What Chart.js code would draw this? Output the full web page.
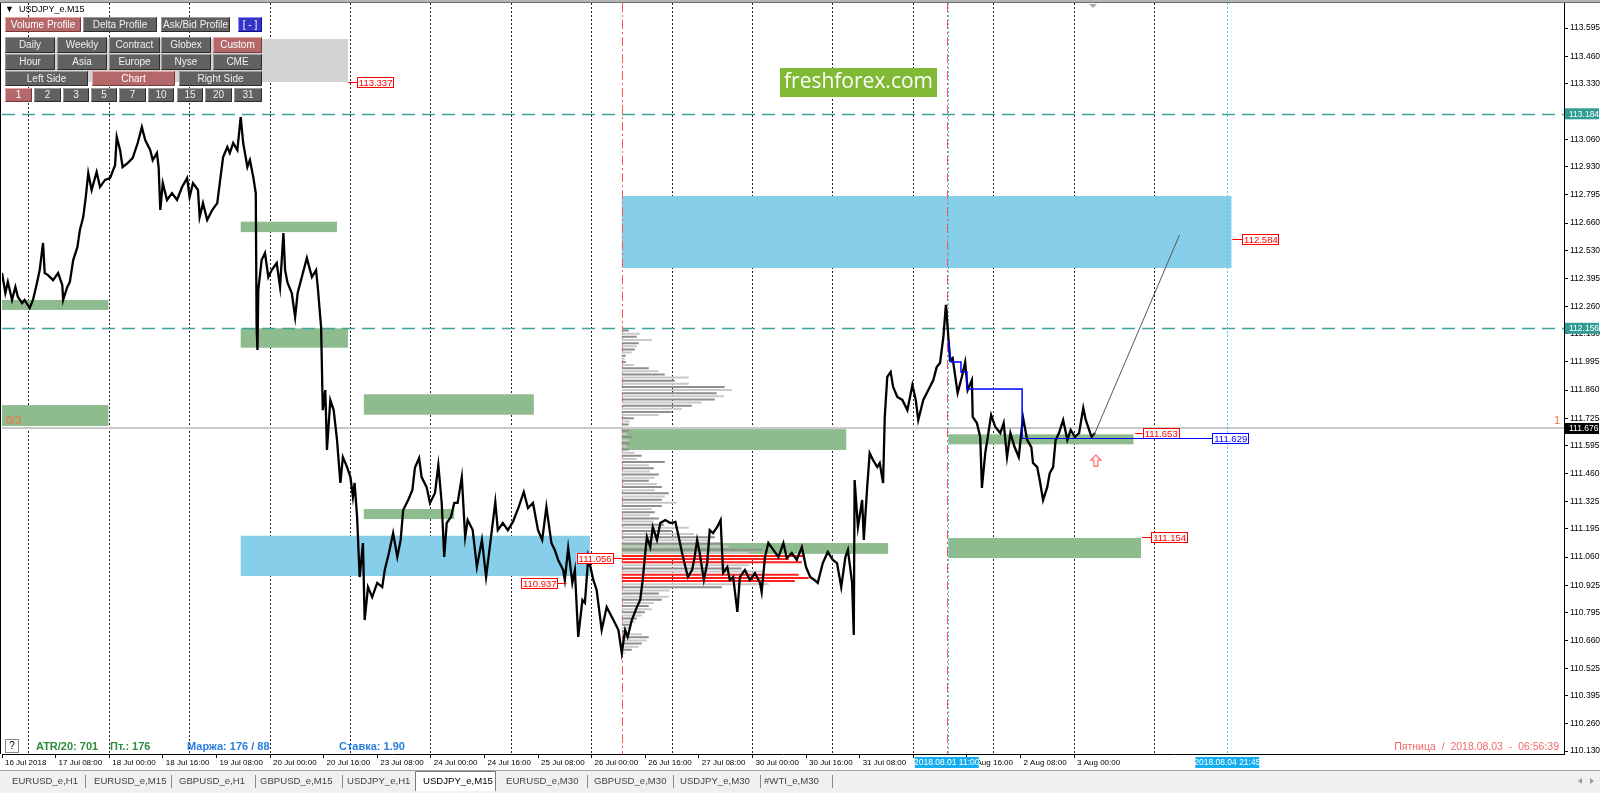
<!DOCTYPE html>
<html><head><meta charset="utf-8">
<script src="https://cdn.jsdelivr.net/npm/chart.js@4.4.1/dist/chart.umd.min.js"></script>
<style>html,body{margin:0;padding:0;background:#fff;overflow:hidden}#wrap{width:1600px;height:793px;position:relative}</style>
</head><body><div id="wrap"><canvas id="c" width="1600" height="793"></canvas></div>
<script>
// ---------------- DATA ----------------
// x values are M15 bar indexes counted from the first visible bar (16 Jul 16:00)
const timeLabels = ["16 Jul 2018","17 Jul 08:00","18 Jul 00:00","18 Jul 16:00","19 Jul 08:00","20 Jul 00:00","20 Jul 16:00","23 Jul 08:00","24 Jul 00:00","24 Jul 16:00","25 Jul 08:00","26 Jul 00:00","26 Jul 16:00","27 Jul 08:00","30 Jul 00:00","30 Jul 16:00","31 Jul 08:00","1 Aug 00:00","1 Aug 16:00","2 Aug 08:00","3 Aug 00:00"];
const barsPerLabel = 64;
const dayGridBars = [32,128,224,320,416,512,608,704,800,896,992,1088,1184,1280,1376];
const visibleBars = [0, 1865];
const priceRange = [110.116, 113.715];
const priceTicks = [113.595,113.460,113.330,113.060,112.930,112.795,112.660,112.530,112.395,112.260,112.130,111.995,111.860,111.725,111.595,111.460,111.325,111.195,111.060,110.925,110.795,110.660,110.525,110.395,110.260,110.130];

// USDJPY M15 price path [bar, price]
const pricePath = [
[0,112.421],[4,112.325],[7,112.378],[12,112.292],[16,112.354],[19,112.306],[24,112.277],[27,112.292],[33,112.253],[37,112.292],
[42,112.378],[45,112.435],[49,112.565],[51,112.421],[55,112.411],[61,112.387],[67,112.421],[72,112.363],[73,112.292],[78,112.354],
[81,112.378],[85,112.483],[90,112.545],[93,112.627],[97,112.689],[100,112.785],[103,112.900],[107,112.819],[113,112.905],[117,112.833],
[123,112.867],[129,112.876],[135,112.938],[137,113.073],[141,113.010],[144,112.929],[150,112.948],[156,112.972],[162,113.044],[167,113.120],
[171,113.058],[177,113.010],[180,112.962],[185,112.996],[187,112.929],[189,112.723],[192,112.852],[197,112.771],[203,112.804],[209,112.771],
[215,112.833],[221,112.876],[224,112.785],[228,112.852],[234,112.819],[236,112.689],[240,112.756],[245,112.675],[251,112.723],[257,112.756],
[260,112.852],[264,112.977],[269,113.025],[272,112.996],[276,113.044],[281,113.010],[285,113.168],[288,113.044],[293,112.929],[296,112.962],
[300,112.881],[303,112.804],[304,112.162],[305,112.052],[306,112.339],
[310,112.483],[314,112.517],[318,112.402],[322,112.435],[328,112.469],[332,112.354],[336,112.613],[338,112.435],[341,112.373],[346,112.325],
[350,112.210],[353,112.325],[358,112.402],[364,112.493],[370,112.402],[375,112.435],[377,112.354],[381,112.162],[383,111.764],[386,111.860],
[388,111.573],[392,111.812],[396,111.764],[400,111.621],[404,111.415],[407,111.539],[412,111.491],[416,111.443],[419,111.348],[421,111.415],
[424,111.252],[427,110.964],[431,111.127],[433,110.758],[437,110.916],[442,110.868],[448,110.936],[454,110.916],[457,110.998],[462,111.079],
[467,111.175],[472,111.060],[476,111.142],[479,111.285],[485,111.333],[490,111.381],[493,111.487],[498,111.534],[501,111.443],[507,111.395],
[511,111.319],[517,111.367],[521,111.501],[525,111.319],[528,111.060],[531,111.223],[536,111.252],[540,111.319],[544,111.319],[549,111.443],
[553,111.156],[556,111.237],[562,111.189],[567,111.012],[573,111.142],[578,110.964],[583,111.127],[589,111.324],[592,111.189],[598,111.223],
[604,111.189],[610,111.228],[617,111.300],[623,111.372],[628,111.295],[634,111.319],[640,111.189],[645,111.142],[650,111.300],[656,111.127],
[660,111.094],[664,111.046],[670,110.998],[672,110.950],[676,111.103],[681,110.936],[684,110.998],[688,110.677],[693,110.854],[696,110.840],
[700,111.060],[706,110.950],[710,110.902],[716,110.710],[722,110.820],
[730,110.758],[736,110.710],[740,110.600],[744,110.710],[747,110.677],[752,110.758],[758,110.820],[762,110.854],[765,110.950],[768,111.079],
[770,111.156],[774,111.108],[777,111.204],[782,111.142],[786,111.223],[792,111.237],[798,111.223],[804,111.228],[807,111.175],[812,111.079],
[816,111.012],[819,110.964],[824,110.998],[827,111.060],[830,111.142],[833,111.079],[838,110.950],[842,111.031],[845,111.189],[849,111.175],
[854,111.204],[858,111.237],[861,110.983],[866,111.012],[869,110.950],[873,110.964],[878,110.797],[881,110.964],[887,110.998],[893,110.950],
[899,110.983],[905,110.936],[907,110.892],[911,111.060],[915,111.127],[921,111.094],[927,111.060],[933,111.127],[937,111.055],[943,111.079],
[949,111.046],[955,111.108],[960,111.012],[965,110.964],[970,110.950],[974,110.936],[980,111.031],[986,111.084],[992,111.046],[997,111.031],
[1002,110.916],[1007,111.060],[1010,111.094],[1015,110.936],[1017,110.686],[1018,111.429],[1022,111.204],[1027,111.333],[1029,111.142],[1033,111.395],
[1036,111.558],[1040,111.525],[1045,111.491],[1048,111.511],[1052,111.415],[1054,111.731],[1057,111.923],[1061,111.947],[1064,111.875],[1069,111.827],
[1075,111.813],[1081,111.764],[1087,111.884],[1091,111.813],[1094,111.717],[1100,111.813],[1106,111.860],[1112,111.908],[1116,111.970],
[1120,111.990],[1124,112.115],[1127,112.268],[1132,112.004],[1135,112.014],[1141,111.846],[1146,111.923],[1150,111.994],[1153,111.860],[1158,111.908],
[1159,111.731],[1164,111.702],[1168,111.635],[1170,111.391],[1174,111.559],[1177,111.635],[1181,111.741],[1186,111.683],[1192,111.654],[1196,111.702],
[1200,111.539],[1204,111.654],[1209,111.587],[1214,111.539],[1219,111.731],[1224,111.621],[1229,111.587],[1231,111.511],[1236,111.491],[1239,111.429],
[1243,111.333],[1248,111.395],[1251,111.462],[1255,111.491],[1258,111.621],[1262,111.654],[1267,111.717],[1272,111.621],[1276,111.669],[1281,111.635],
[1286,111.654],[1291,111.774],[1294,111.717],[1298,111.669],[1301,111.635],[1305,111.654]
];
const bidPrice = 111.676;

// Volume profile (starts at bar 740, bins of 0.015 from 112.145 down)
const vpStartBar = 740;
const vpTopPrice = 112.145;
const vpBinSize = 0.015;
const vpBarsPerUnit = 1.194;
const vpVolumes = [7,18,15,30,17,15,13,10,4,3,4,12,27,37,43,67,53,67,103,110,95,102,93,80,70,60,50,37,12,8,7,10,7,5,10,7,8,5,7,13,20,15,43,27,32,28,37,33,27,35,40,33,47,43,40,55,40,30,33,28,37,32,42,67,50,72,93,87,100,107,140,127,183,167,180,127,120,140,177,187,173,147,100,48,37,47,40,32,27,30,23,20,15,13,10,8,5,20,27,25,20,17,10,3];
const vpRedBins = [72,73,74,78,79,80];

// Zones [startBar, endBar, topPrice, bottomPrice]
const greenZones = [[0,127,112.292,112.244],[285,400,112.667,112.617],[285,413,112.156,112.063],[0,127,111.788,111.688],[432,635,111.840,111.742],[432,540,111.290,111.242],[740,1008,111.673,111.573],[740,1058,111.127,111.075],[1130,1351,111.648,111.600],[1130,1360,111.151,111.055]];
const blueZones = [[285,702,111.162,110.969],[740,1468,112.790,112.445]];
const tealLevels = [113.184, 112.156];
const redVerticalBars = [740, 1128];
const cyanVerticalBars = [1129, 1463];
const axisTimeTags = [[1128,"2018.08.01 11:00"],[1463,"2018.08.04 21:45"]];
const axisPriceTags = [[113.184,"#2f9d95"],[112.156,"#2f9d95"],[111.676,"#000000"]];
// Price tags [price, lineFromBar, boxAtBar, color]
const priceTags = [[113.337,413,424,"#ff0000"],[112.584,1469,1481,"#ff0000"],[111.653,1353,1362,"#ff0000"],[111.154,1361,1372,"#ff0000"],[111.056,740,729,"#ff0000"],[110.937,674,663,"#ff0000"],[111.629,1218,1445,"#0000ff"]];
const blueStepPath = [[1130,112.100],[1133,111.994],[1145,111.994],[1145,111.947],[1152,111.947],[1152,111.865],[1218,111.865],[1218,111.630]];
const trendPath = [[1303,111.636],[1406,112.604]];
const arrowMark = [1306, 111.520];

// ---------------- BUILD ----------------
const pts = a => a.map(p => ({x:p[0], y:p[1]}));
function vpData(filter){
  const out = [];
  vpVolumes.forEach((v,i)=>{
    if(!filter(i)) return;
    const lvl = vpTopPrice - i*vpBinSize;
    out.push({x:vpStartBar,y:lvl},{x:vpStartBar+v*vpBarsPerUnit,y:lvl},{x:vpStartBar,y:null});
  });
  return out;
}
const isRed = i => vpRedBins.includes(i);

const FONT = "'Liberation Sans', Arial, sans-serif";

function drawBtn(ctx,x,y,w,h,t,kind){
  const c = {gray:['#616161','#9c9c9c','#2c2c2c','#f0f0f0'],rose:['#b4686a','#e6a4a4','#7a3a3a','#ffffff'],blue:['#3434c8','#9090ff','#101080','#ffffff']}[kind];
  ctx.fillStyle=c[0]; ctx.fillRect(x,y,w,h);
  ctx.lineWidth=1;
  ctx.strokeStyle=c[1]; ctx.beginPath(); ctx.moveTo(x+0.5,y+h-0.5); ctx.lineTo(x+0.5,y+0.5); ctx.lineTo(x+w-0.5,y+0.5); ctx.stroke();
  ctx.strokeStyle=c[2]; ctx.beginPath(); ctx.moveTo(x+w-0.5,y+0.5); ctx.lineTo(x+w-0.5,y+h-0.5); ctx.lineTo(x+0.5,y+h-0.5); ctx.stroke();
  ctx.fillStyle=c[3]; ctx.font="10px "+FONT; ctx.textAlign='center'; ctx.textBaseline='middle';
  ctx.fillText(t,x+w/2,y+h/2+0.5);
}

const overlay = {
  id:'overlay',
  beforeDatasetsDraw(chart){
    const {ctx, chartArea:a, scales:{x,y}} = chart;
    ctx.save();
    ctx.beginPath(); ctx.rect(a.left,a.top,a.right-a.left,a.bottom-a.top); ctx.clip();
    ctx.strokeStyle='#c8c8c8'; ctx.lineWidth=2;
    let yb=Math.round(y.getPixelForValue(bidPrice));
    ctx.beginPath(); ctx.moveTo(a.left,yb); ctx.lineTo(a.right,yb); ctx.stroke();
    const zone=(z,col)=>{const x0=x.getPixelForValue(z[0]),x1=x.getPixelForValue(z[1]),y0=y.getPixelForValue(z[2]),y1=y.getPixelForValue(z[3]);ctx.fillStyle=col;ctx.fillRect(x0,y0,x1-x0,y1-y0);};
    greenZones.forEach(z=>zone(z,'#8fbc8f'));
    blueZones.forEach(z=>zone(z,'#87ceeb'));
    ctx.strokeStyle='#3fa39b'; ctx.lineWidth=1.5; ctx.setLineDash([13,7]);
    tealLevels.forEach(v=>{const yy=Math.round(y.getPixelForValue(v))+0.5;ctx.beginPath();ctx.moveTo(a.left,yy);ctx.lineTo(a.right,yy);ctx.stroke();});
    ctx.lineWidth=1;
    ctx.strokeStyle='#ff5a5a'; ctx.setLineDash([9,3,2,3]);
    redVerticalBars.forEach(b=>{const xx=Math.round(x.getPixelForValue(b))+0.5;ctx.beginPath();ctx.moveTo(xx,a.top);ctx.lineTo(xx,a.bottom);ctx.stroke();});
    ctx.strokeStyle='#3cc8f5'; ctx.setLineDash([2,2]);
    cyanVerticalBars.forEach(b=>{const xx=Math.round(x.getPixelForValue(b))+0.5;ctx.beginPath();ctx.moveTo(xx,a.top);ctx.lineTo(xx,a.bottom);ctx.stroke();});
    ctx.setLineDash([]);
    ctx.restore();
  },
  afterDatasetsDraw(chart){
    const {ctx, chartArea:a, scales:{x,y}} = chart;
    ctx.save();
    priceTags.forEach(t=>{
      const yy=Math.round(y.getPixelForValue(t[0]))+0.5, x0=x.getPixelForValue(t[1]), x1=x.getPixelForValue(t[2]);
      ctx.strokeStyle=t[3]; ctx.lineWidth=1;
      ctx.beginPath(); ctx.moveTo(x0,yy); ctx.lineTo(x1,yy); ctx.stroke();
      const w=36,h=11; const bx = x1>x0 ? x1 : x1-w;
      ctx.fillStyle='#fff'; ctx.fillRect(bx,yy-h/2,w,h);
      ctx.strokeRect(Math.round(bx)+0.5,Math.round(yy-h/2)+0.5,w,h-1);
      ctx.fillStyle=t[3]; ctx.font="9.5px "+FONT; ctx.textAlign='center'; ctx.textBaseline='middle';
      ctx.fillText(t[0].toFixed(3),bx+w/2+0.5,yy+0.5);
    });
    const ax=x.getPixelForValue(arrowMark[0]), ay=y.getPixelForValue(arrowMark[1]);
    ctx.strokeStyle='#ff6a6a'; ctx.lineWidth=1.2; ctx.beginPath();
    ctx.moveTo(ax,ay-6);ctx.lineTo(ax+5,ay-1);ctx.lineTo(ax+2,ay-1);ctx.lineTo(ax+2,ay+5);ctx.lineTo(ax-2,ay+5);ctx.lineTo(ax-2,ay-1);ctx.lineTo(ax-5,ay-1);ctx.closePath();ctx.stroke();
    ctx.fillStyle='#ff6a3d'; ctx.font="11px "+FONT; ctx.textBaseline='middle';
    const yb=y.getPixelForValue(bidPrice);
    ctx.textAlign='left'; ctx.fillText('0/3',a.left+4,yb-8);
    ctx.textAlign='right'; ctx.fillText('1',a.right-4,yb-8);
    ctx.restore();
  },
  afterDraw(chart){
    const {ctx, chartArea:a, scales:{x,y}} = chart;
    ctx.save();
    ctx.fillStyle='#b4b4b4'; ctx.fillRect(0,0,1600,3);
    ctx.fillStyle='#6e6e6e'; ctx.fillRect(0,2,1600,1);
    ctx.fillStyle='#000'; ctx.fillRect(0,3,1,a.bottom-3);
    ctx.fillStyle='#a8a8a8'; ctx.beginPath(); ctx.moveTo(1089,4); ctx.lineTo(1097,4); ctx.lineTo(1093,8); ctx.closePath(); ctx.fill();
    ctx.font="8.5px "+FONT; ctx.textBaseline='middle'; ctx.textAlign='left';
    axisPriceTags.forEach(t=>{const yy=y.getPixelForValue(t[0]);ctx.fillStyle=t[1];ctx.fillRect(a.right+1,yy-5.5,34,11);ctx.fillStyle='#fff';ctx.fillText(t[0].toFixed(3),a.right+5,yy+0.5);});
    ctx.textAlign='center';
    axisTimeTags.forEach(t=>{const xx=x.getPixelForValue(t[0]);ctx.fillStyle='#14aef0';ctx.fillRect(xx-32,a.bottom+3,64,11);ctx.fillStyle='#fff';ctx.fillText(t[1],xx,a.bottom+9);});
    ctx.fillStyle='#d3d3d3'; ctx.fillRect(5,39,343,43);
    ctx.fillStyle='#000'; ctx.font="9px "+FONT; ctx.textAlign='left'; ctx.textBaseline='middle';
    ctx.fillText('\u25BC  USDJPY_e.M15',5,10);
    [["Volume Profile",5,76,'rose'],["Delta Profile",83,74,'gray'],["Ask/Bid Profile",161,69,'gray'],["[ - ]",238,24,'blue']].forEach(b=>drawBtn(ctx,b[1],17,b[2],15,b[0],b[3]));
    const cols=[[5,50],[57,50],[109,51],[161,50],[213,49]];
    ["Daily","Weekly","Contract","Globex","Custom"].forEach((t,i)=>drawBtn(ctx,cols[i][0],37,cols[i][1],16,t,i==4?'rose':'gray'));
    ["Hour","Asia","Europe","Nyse","CME"].forEach((t,i)=>drawBtn(ctx,cols[i][0],54,cols[i][1],16,t,'gray'));
    [["Left Side",5,'gray'],["Chart",92,'rose'],["Right Side",179,'gray']].forEach(b=>drawBtn(ctx,b[1],71,83,15,b[0],b[2]));
    [["1",5,27],["2",34,27],["3",63,26],["5",91,26],["7",119,27],["10",148,26],["15",177,26],["20",205,27],["31",234,28]].forEach((b,i)=>drawBtn(ctx,b[1],88,b[2],14,b[0],i==0?'rose':'gray'));
    ctx.fillStyle='#80b933'; ctx.fillRect(780,68,157,29);
    ctx.fillStyle='#fff'; ctx.font="21px 'Open Sans', 'Noto Sans', sans-serif"; ctx.textAlign='center'; ctx.textBaseline='middle';
    ctx.fillText('freshforex.com',858.5,82.5);
    ctx.fillStyle='#fff'; ctx.fillRect(5,739,14,14);
    ctx.strokeStyle='#8a8a8a'; ctx.lineWidth=1; ctx.strokeRect(5.5,739.5,13,13);
    ctx.fillStyle='#000'; ctx.font="10px "+FONT; ctx.fillText('?',12,746.5);
    ctx.font="bold 11px "+FONT; ctx.textAlign='left';
    ctx.fillStyle='#2e8b3e'; ctx.fillText('ATR/20: 701',36,747); ctx.fillText('\u041F\u0442.: 176',110,747);
    ctx.fillStyle='#2a7de1'; ctx.fillText('\u041C\u0430\u0440\u0436\u0430: 176 / 88',187,747); ctx.fillText('\u0421\u0442\u0430\u0432\u043A\u0430: 1.90',339,747);
    ctx.font="10.5px "+FONT; ctx.textAlign='right'; ctx.fillStyle='#f06a6a';
    ctx.fillText('\u041F\u044F\u0442\u043D\u0438\u0446\u0430  /  2018.08.03  -  06:56:39',1559,747);
    ctx.fillStyle='#f0f0f0'; ctx.fillRect(0,770,1600,23);
    ctx.fillStyle='#a0a0a0'; ctx.fillRect(0,770,1600,1);
    ctx.fillStyle='#fff'; ctx.fillRect(415,771,81,20);
    ctx.strokeStyle='#7a7a7a'; ctx.beginPath(); ctx.moveTo(415.5,791); ctx.lineTo(415.5,771.5); ctx.lineTo(495.5,771.5); ctx.lineTo(495.5,791); ctx.stroke();
    ctx.font="9.6px "+FONT; ctx.textAlign='left'; ctx.textBaseline='middle';
    [["EURUSD_e,H1",12],["EURUSD_e,M15",94],["GBPUSD_e,H1",179],["GBPUSD_e,M15",260],["USDJPY_e,H1",347],["USDJPY_e,M15",423],["EURUSD_e,M30",506],["GBPUSD_e,M30",594],["USDJPY_e,M30",680],["#WTI_e,M30",764]].forEach(t=>{ctx.fillStyle=t[0]=="USDJPY_e,M15"?'#000':'#444';ctx.fillText(t[0],t[1],781.5);});
    ctx.fillStyle='#8a8a8a';
    [85,171,255,342,587,673,760,832].forEach(s=>ctx.fillRect(s,775,1,13));
    ctx.fillStyle='#9a9a9a';
    ctx.beginPath(); ctx.moveTo(1578,781); ctx.lineTo(1582,778); ctx.lineTo(1582,784); ctx.closePath(); ctx.fill();
    ctx.beginPath(); ctx.moveTo(1594,781); ctx.lineTo(1590,778); ctx.lineTo(1590,784); ctx.closePath(); ctx.fill();
    ctx.restore();
  }
};

new Chart(document.getElementById('c'), {
  type:'line',
  data:{datasets:[
    {data:vpData(i=>!isRed(i)&&i%2==0), borderColor:'#8e8e8e', borderWidth:2, pointRadius:0, spanGaps:false, order:6},
    {data:vpData(i=>!isRed(i)&&i%2==1), borderColor:'#c9c9c9', borderWidth:2, pointRadius:0, spanGaps:false, order:6},
    {data:vpData(isRed), borderColor:'#ff2020', borderWidth:2, pointRadius:0, spanGaps:false, order:5},
    {data:pts(pricePath), borderColor:'#000', borderWidth:2.3, borderJoinStyle:'miter', pointRadius:0, order:2},
    {data:pts(blueStepPath), borderColor:'#0000ff', borderWidth:1.5, pointRadius:0, order:1},
    {data:pts(trendPath), borderColor:'#555', borderWidth:1, pointRadius:0, order:1}
  ]},
  options:{
    responsive:false, animation:false, devicePixelRatio:1, events:[],
    layout:{padding:{left:2,top:3,right:0,bottom:23}},
    plugins:{legend:{display:false},tooltip:{enabled:false}},
    scales:{
      x:{type:'linear', position:'bottom', min:visibleBars[0], max:visibleBars[1],
        afterBuildTicks:s=>{s.ticks=timeLabels.map((_,i)=>({value:i*barsPerLabel}));},
        afterFit:s=>{s.height=16;s.paddingLeft=0;s.paddingRight=0;},
        ticks:{autoSkip:false,maxRotation:0,align:'start',labelOffset:3,padding:0,color:'#000',font:{size:8,family:FONT},
          callback:v=>timeLabels[Math.round(v/barsPerLabel)]},
        grid:{drawOnChartArea:false,drawTicks:true,tickLength:4,tickColor:'#000',color:'#000'},
        border:{display:true,color:'#000',width:1}},
      xDay:{type:'linear', position:'bottom', min:visibleBars[0], max:visibleBars[1],
        afterBuildTicks:s=>{s.ticks=dayGridBars.map(v=>({value:v}));},
        afterFit:s=>{s.height=0;s.paddingLeft=0;s.paddingRight=0;},
        ticks:{display:false},
        grid:{drawOnChartArea:true,drawTicks:false,color:'#1e1e1e',lineWidth:1},
        border:{display:false,dash:[2,2]}},
      y:{type:'linear', position:'right', min:priceRange[0], max:priceRange[1],
        afterBuildTicks:s=>{s.ticks=priceTicks.map(v=>({value:v}));},
        afterFit:s=>{s.width=36;s.paddingTop=0;s.paddingBottom=0;},
        ticks:{autoSkip:false,padding:2,color:'#000',font:{size:8.5,family:FONT},callback:v=>v.toFixed(3)},
        grid:{drawOnChartArea:false,drawTicks:true,tickLength:4,tickColor:'#000'},
        border:{display:true,color:'#000',width:1}}
    }
  },
  plugins:[overlay]
});
</script></body></html>
